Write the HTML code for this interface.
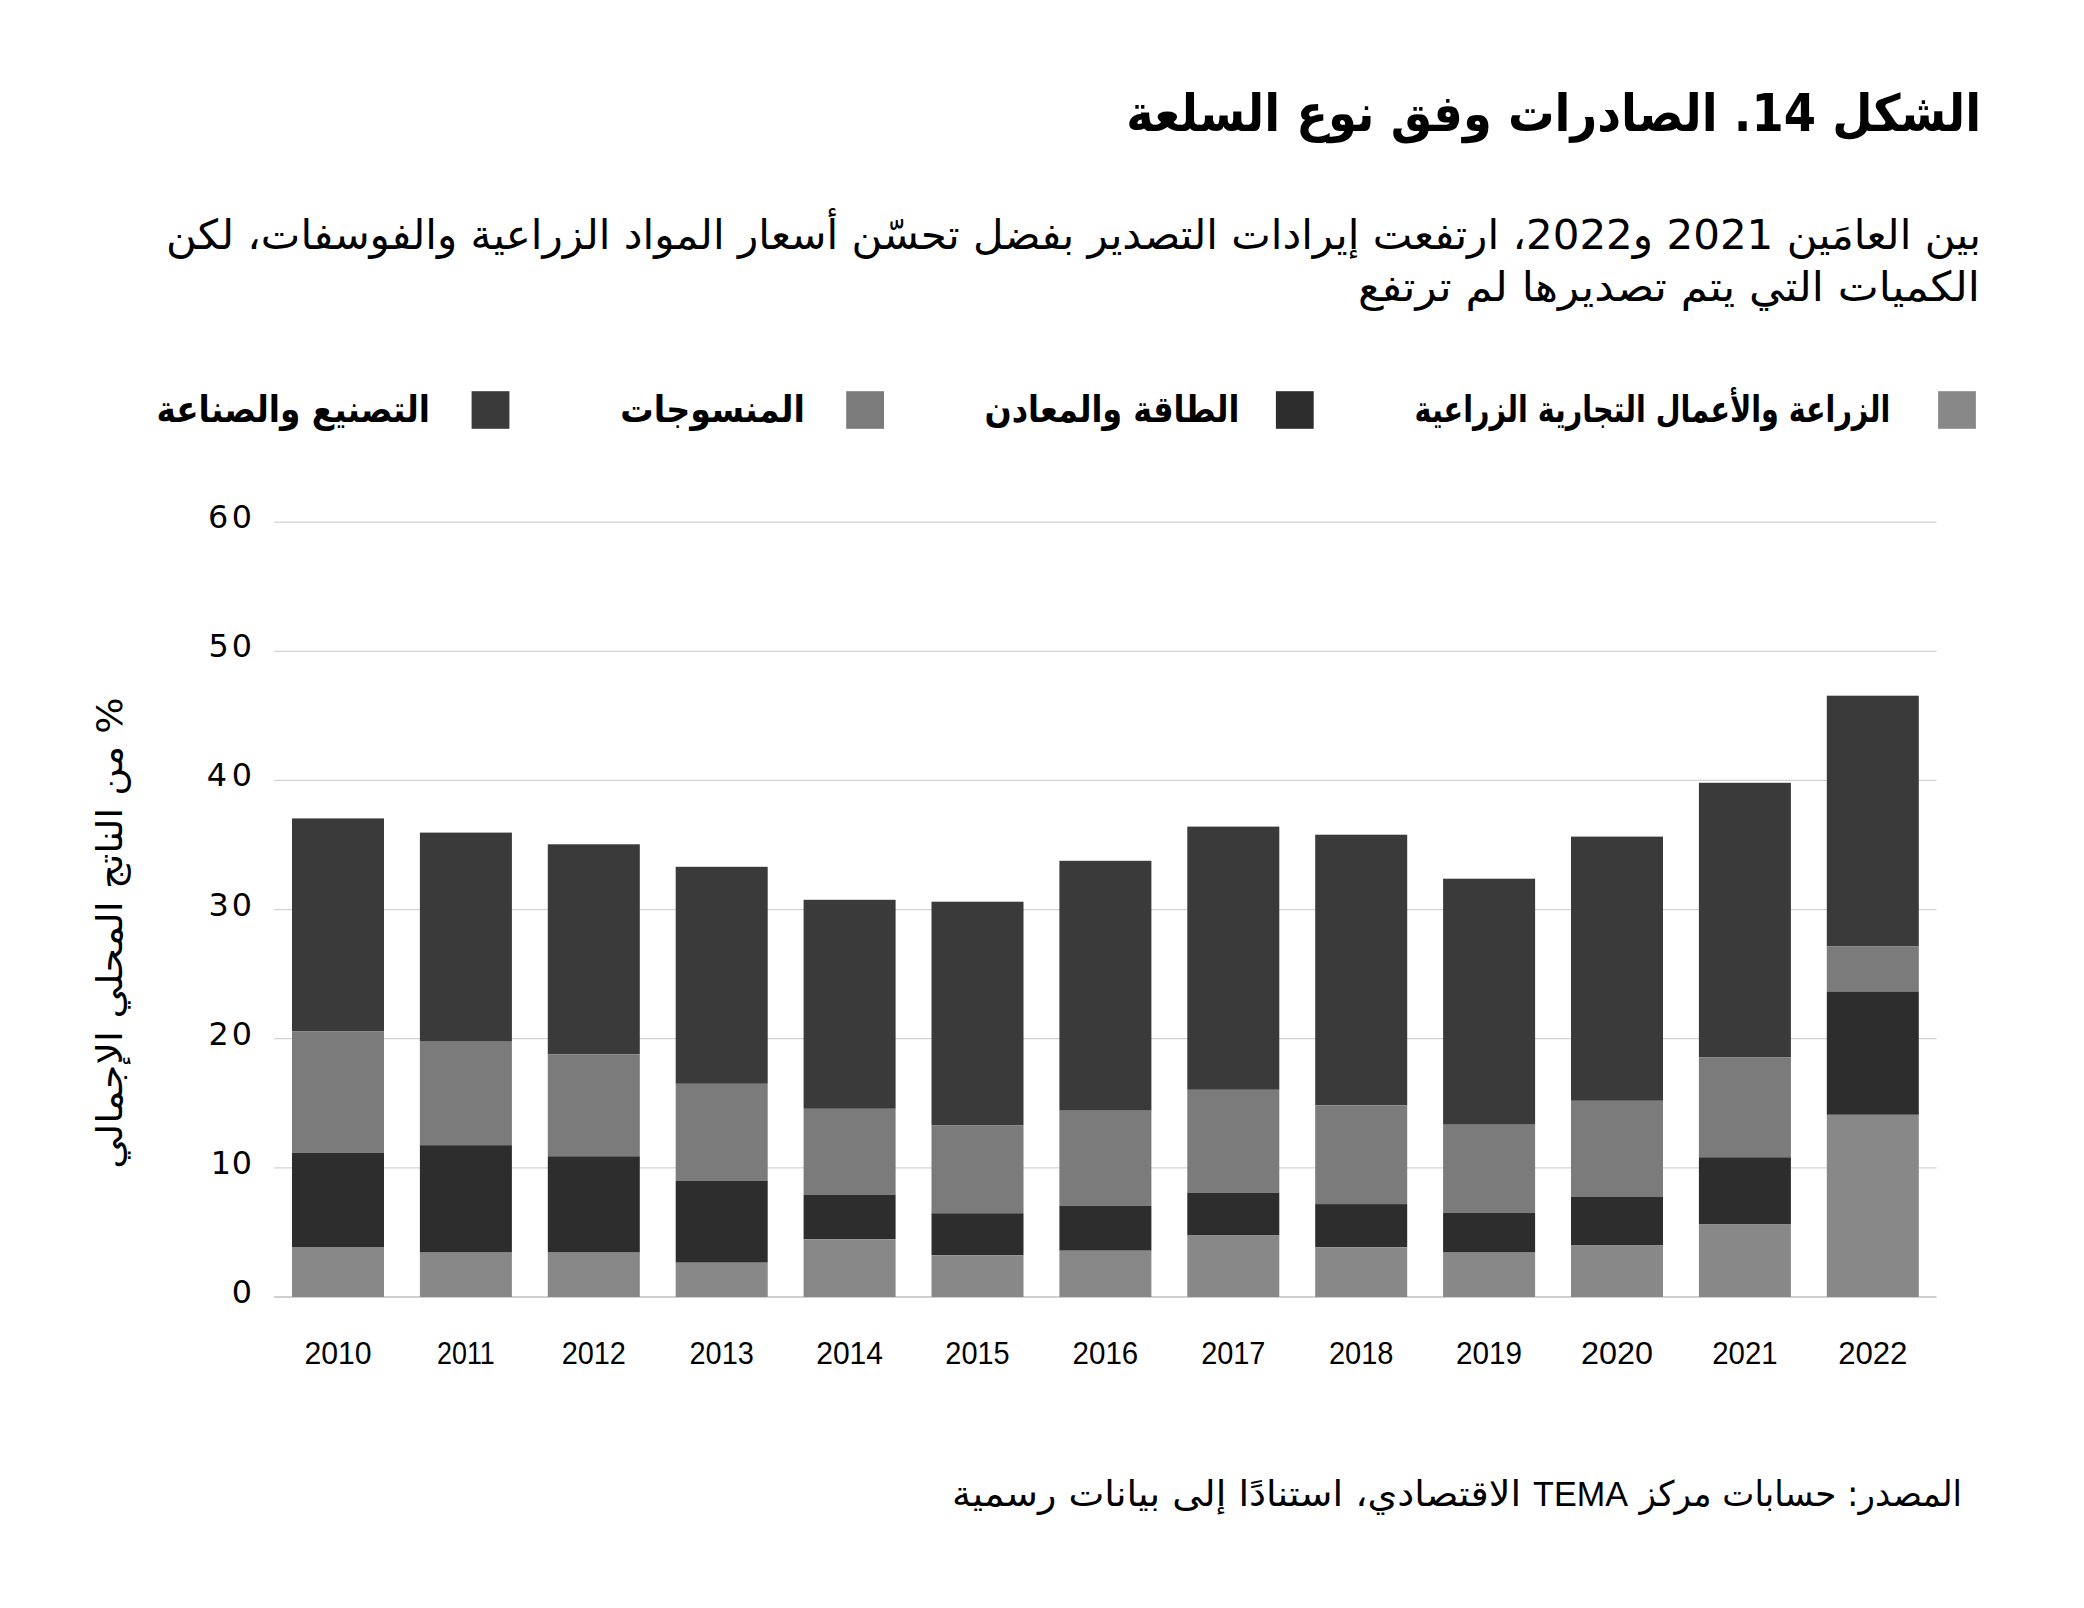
<!DOCTYPE html>
<html lang="ar">
<head>
<meta charset="utf-8">
<title>الشكل 14. الصادرات وفق نوع السلعة</title>
<style>
html,body{margin:0;padding:0;background:#fff}
body{width:2084px;height:1608px;overflow:hidden}
svg{display:block}
.dv{font-family:'DejaVu Sans','Liberation Sans',sans-serif}
.lib{font-family:'Liberation Sans','DejaVu Sans',sans-serif}
</style>
</head>
<body>
<svg width="2084" height="1608" viewBox="0 0 2084 1608">
<rect width="2084" height="1608" fill="#ffffff"/>
<!-- title -->
<text class="dv" x="1981.2" y="130.9" font-size="51" font-weight="bold" direction="rtl" text-anchor="start" textLength="855" lengthAdjust="spacingAndGlyphs" fill="#000">الشكل 14. الصادرات وفق نوع السلعة</text>
<!-- subtitle -->
<text class="dv" x="1981" y="248.9" font-size="41" direction="rtl" text-anchor="start" textLength="1815" lengthAdjust="spacingAndGlyphs" fill="#000">بين العامَين 2021 و2022، ارتفعت إيرادات التصدير بفضل تحسّن أسعار المواد الزراعية والفوسفات، لكن</text>
<text class="dv" x="1980.0" y="301.1" font-size="41" direction="rtl" text-anchor="start" textLength="622" lengthAdjust="spacingAndGlyphs" fill="#000">الكميات التي يتم تصديرها لم ترتفع</text>
<!-- legend -->
<rect x="1938.1" y="391.2" width="37.8" height="37.6" fill="#888888"/>
<text class="dv" x="1890.2" y="422.1" font-size="36.3" font-weight="bold" direction="rtl" text-anchor="start" textLength="475.6" lengthAdjust="spacingAndGlyphs" fill="#000">الزراعة والأعمال التجارية الزراعية</text>
<rect x="1275.9" y="391.2" width="37.8" height="37.6" fill="#2d2d2d"/>
<text class="dv" x="1239.5" y="422.1" font-size="36.3" font-weight="bold" direction="rtl" text-anchor="start" textLength="255.0" lengthAdjust="spacingAndGlyphs" fill="#000">الطاقة والمعادن</text>
<rect x="846.2" y="391.2" width="37.8" height="37.6" fill="#7b7b7b"/>
<text class="dv" x="805.0" y="422.1" font-size="36.3" font-weight="bold" direction="rtl" text-anchor="start" textLength="184.7" lengthAdjust="spacingAndGlyphs" fill="#000">المنسوجات</text>
<rect x="471.6" y="391.2" width="37.8" height="37.6" fill="#3a3a3a"/>
<text class="dv" x="430.0" y="422.1" font-size="36.3" font-weight="bold" direction="rtl" text-anchor="start" textLength="273.6" lengthAdjust="spacingAndGlyphs" fill="#000">التصنيع والصناعة</text>
<!-- gridlines -->
<g stroke="#d3d3d3" stroke-width="1.3">
<line x1="274" x2="1936.6" y1="522.16" y2="522.16"/>
<line x1="274" x2="1936.6" y1="651.30" y2="651.30"/>
<line x1="274" x2="1936.6" y1="780.44" y2="780.44"/>
<line x1="274" x2="1936.6" y1="909.58" y2="909.58"/>
<line x1="274" x2="1936.6" y1="1038.72" y2="1038.72"/>
<line x1="274" x2="1936.6" y1="1167.86" y2="1167.86"/>
</g>
<line x1="274" x2="1936.6" y1="1297" y2="1297" stroke="#d0d0d0" stroke-width="2"/>
<!-- bars -->
<g transform="translate(292.0 0)"><rect y="818.4" width="92.0" height="213.1" fill="#3a3a3a"/><rect y="1031.5" width="92.0" height="121.2" fill="#7b7b7b"/><rect y="1152.7" width="92.0" height="94.3" fill="#2d2d2d"/><rect y="1247.0" width="92.0" height="50.0" fill="#888888"/></g>
<g transform="translate(419.9 0)"><rect y="832.6" width="92.0" height="209.1" fill="#3a3a3a"/><rect y="1041.7" width="92.0" height="103.5" fill="#7b7b7b"/><rect y="1145.2" width="92.0" height="107.4" fill="#2d2d2d"/><rect y="1252.6" width="92.0" height="44.4" fill="#888888"/></g>
<g transform="translate(547.8 0)"><rect y="844.3" width="92.0" height="210.0" fill="#3a3a3a"/><rect y="1054.3" width="92.0" height="102.0" fill="#7b7b7b"/><rect y="1156.3" width="92.0" height="96.3" fill="#2d2d2d"/><rect y="1252.6" width="92.0" height="44.4" fill="#888888"/></g>
<g transform="translate(675.7 0)"><rect y="866.8" width="92.0" height="217.0" fill="#3a3a3a"/><rect y="1083.8" width="92.0" height="96.9" fill="#7b7b7b"/><rect y="1180.7" width="92.0" height="82.0" fill="#2d2d2d"/><rect y="1262.7" width="92.0" height="34.3" fill="#888888"/></g>
<g transform="translate(803.6 0)"><rect y="899.8" width="92.0" height="209.0" fill="#3a3a3a"/><rect y="1108.8" width="92.0" height="85.8" fill="#7b7b7b"/><rect y="1194.6" width="92.0" height="44.6" fill="#2d2d2d"/><rect y="1239.2" width="92.0" height="57.8" fill="#888888"/></g>
<g transform="translate(931.5 0)"><rect y="901.7" width="92.0" height="223.8" fill="#3a3a3a"/><rect y="1125.5" width="92.0" height="87.8" fill="#7b7b7b"/><rect y="1213.3" width="92.0" height="42.1" fill="#2d2d2d"/><rect y="1255.4" width="92.0" height="41.6" fill="#888888"/></g>
<g transform="translate(1059.4 0)"><rect y="860.8" width="92.0" height="249.9" fill="#3a3a3a"/><rect y="1110.7" width="92.0" height="95.0" fill="#7b7b7b"/><rect y="1205.7" width="92.0" height="45.0" fill="#2d2d2d"/><rect y="1250.7" width="92.0" height="46.3" fill="#888888"/></g>
<g transform="translate(1187.3 0)"><rect y="826.6" width="92.0" height="263.2" fill="#3a3a3a"/><rect y="1089.8" width="92.0" height="102.9" fill="#7b7b7b"/><rect y="1192.7" width="92.0" height="42.8" fill="#2d2d2d"/><rect y="1235.5" width="92.0" height="61.5" fill="#888888"/></g>
<g transform="translate(1315.2 0)"><rect y="834.7" width="92.0" height="270.6" fill="#3a3a3a"/><rect y="1105.3" width="92.0" height="98.8" fill="#7b7b7b"/><rect y="1204.1" width="92.0" height="43.1" fill="#2d2d2d"/><rect y="1247.2" width="92.0" height="49.8" fill="#888888"/></g>
<g transform="translate(1443.1 0)"><rect y="878.7" width="92.0" height="246.0" fill="#3a3a3a"/><rect y="1124.7" width="92.0" height="88.0" fill="#7b7b7b"/><rect y="1212.7" width="92.0" height="39.9" fill="#2d2d2d"/><rect y="1252.6" width="92.0" height="44.4" fill="#888888"/></g>
<g transform="translate(1571.0 0)"><rect y="836.6" width="92.0" height="264.2" fill="#3a3a3a"/><rect y="1100.8" width="92.0" height="95.8" fill="#7b7b7b"/><rect y="1196.6" width="92.0" height="48.9" fill="#2d2d2d"/><rect y="1245.5" width="92.0" height="51.5" fill="#888888"/></g>
<g transform="translate(1698.9 0)"><rect y="782.8" width="92.0" height="274.7" fill="#3a3a3a"/><rect y="1057.5" width="92.0" height="99.8" fill="#7b7b7b"/><rect y="1157.3" width="92.0" height="67.2" fill="#2d2d2d"/><rect y="1224.5" width="92.0" height="72.5" fill="#888888"/></g>
<g transform="translate(1826.8 0)"><rect y="695.7" width="92.0" height="250.8" fill="#3a3a3a"/><rect y="946.5" width="92.0" height="45.0" fill="#7b7b7b"/><rect y="991.5" width="92.0" height="123.3" fill="#2d2d2d"/><rect y="1114.8" width="92.0" height="182.2" fill="#888888"/></g>
<!-- y tick labels -->
<g class="dv" font-size="31.8" fill="#000" text-anchor="end">
<text x="251.9" y="528.2" textLength="43.8" lengthAdjust="spacing">60</text>
<text x="251.9" y="657.3" textLength="43.4" lengthAdjust="spacing">50</text>
<text x="251.9" y="786.4" textLength="45.2" lengthAdjust="spacing">40</text>
<text x="251.9" y="915.6" textLength="43.4" lengthAdjust="spacing">30</text>
<text x="251.9" y="1044.7" textLength="43.4" lengthAdjust="spacing">20</text>
<text x="251.9" y="1173.9" textLength="41.2" lengthAdjust="spacing">10</text>
<text x="251.9" y="1303.0" textLength="20.3" lengthAdjust="spacing">0</text>
</g>
<!-- x tick labels -->
<g class="lib" font-size="31" fill="#000" text-anchor="middle">
<text x="338.0" y="1364" textLength="67.2" lengthAdjust="spacingAndGlyphs">2010</text>
<text x="465.9" y="1364" textLength="57.8" lengthAdjust="spacingAndGlyphs">2011</text>
<text x="593.8" y="1364" textLength="64.3" lengthAdjust="spacingAndGlyphs">2012</text>
<text x="721.7" y="1364" textLength="64.3" lengthAdjust="spacingAndGlyphs">2013</text>
<text x="849.6" y="1364" textLength="66.8" lengthAdjust="spacingAndGlyphs">2014</text>
<text x="977.5" y="1364" textLength="64.3" lengthAdjust="spacingAndGlyphs">2015</text>
<text x="1105.4" y="1364" textLength="65.7" lengthAdjust="spacingAndGlyphs">2016</text>
<text x="1233.3" y="1364" textLength="64.3" lengthAdjust="spacingAndGlyphs">2017</text>
<text x="1361.2" y="1364" textLength="64.6" lengthAdjust="spacingAndGlyphs">2018</text>
<text x="1489.1" y="1364" textLength="66.0" lengthAdjust="spacingAndGlyphs">2019</text>
<text x="1617.0" y="1364" textLength="71.9" lengthAdjust="spacingAndGlyphs">2020</text>
<text x="1744.9" y="1364" textLength="65.4" lengthAdjust="spacingAndGlyphs">2021</text>
<text x="1872.8" y="1364" textLength="69.3" lengthAdjust="spacingAndGlyphs">2022</text>
</g>
<!-- y axis title -->
<g transform="translate(121.8 697.3) rotate(-90)"><text class="dv" x="0" y="0" font-size="35.3" direction="rtl" text-anchor="start" textLength="191.7" lengthAdjust="spacingAndGlyphs" fill="#000">% من الناتج</text></g>
<g transform="translate(121.8 901.2) rotate(-90)"><text class="dv" x="0" y="0" font-size="35.3" direction="rtl" text-anchor="start" textLength="267.5" lengthAdjust="spacingAndGlyphs" fill="#000">المحلي الإجمالي</text></g>
<!-- source -->
<text class="dv" x="1962.1" y="1505.8" font-size="35.3" direction="rtl" text-anchor="start" textLength="322.7" lengthAdjust="spacingAndGlyphs" fill="#000">المصدر: حسابات مركز</text>
<text class="lib" x="1580.6" y="1505.8" font-size="35.2" text-anchor="middle" textLength="95" lengthAdjust="spacingAndGlyphs" fill="#000">TEMA</text>
<text class="dv" x="1521" y="1505.8" font-size="35.3" direction="rtl" text-anchor="start" textLength="569" lengthAdjust="spacingAndGlyphs" fill="#000">الاقتصادي، استنادًا إلى بيانات رسمية</text>
</svg>
</body>
</html>
